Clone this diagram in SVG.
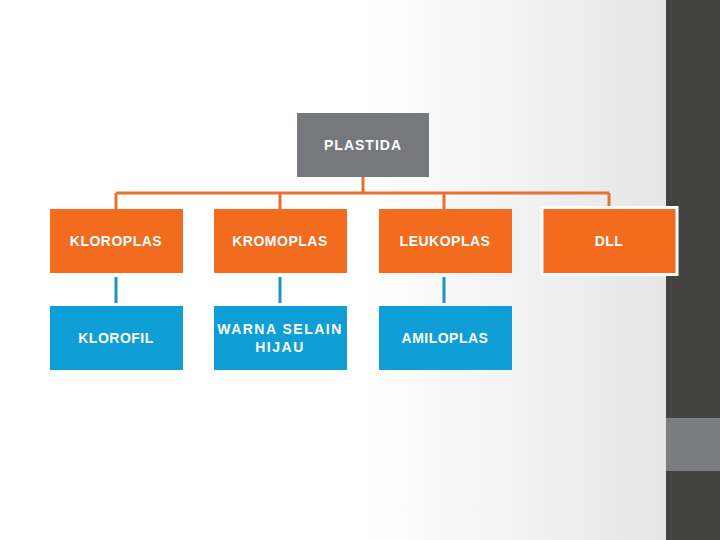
<svg xmlns="http://www.w3.org/2000/svg" width="720" height="540" viewBox="0 0 720 540">
<defs>
<linearGradient id="bg" x1="0" y1="0" x2="666" y2="0" gradientUnits="userSpaceOnUse">
<stop offset="0.55" stop-color="#ffffff"/>
<stop offset="1" stop-color="#e6e6e6"/>
</linearGradient>
<style>
.t{font-family:"Liberation Sans",Arial,sans-serif;font-weight:bold;font-size:14px;letter-spacing:0.5px;fill:#ffffff;text-anchor:middle;dominant-baseline:central}
.or{fill:#f26b1e}
.bl{fill:#0f9ed6}
.oc{stroke:#e8712e;stroke-width:3;fill:none}
.bc{stroke:#1c93c3;stroke-width:3;fill:none}
</style>
</defs>
<rect width="720" height="540" fill="url(#bg)"/>
<rect x="666" y="0" width="54" height="540" fill="#434341"/>
<rect x="666" y="418" width="54" height="53" fill="#7b7c80"/>
<g id="connectors">
<path class="oc" d="M363 177V193M116 193H609M116 193V209M280 193V209M444 193V209M609 193V206"/>
<path class="bc" d="M116 277V303M280 277V303M444 277V303"/>
</g>
<g id="plastida">
<rect x="297" y="113" width="132" height="64" fill="#77787b"/>
<text class="t" x="363" y="145" style="letter-spacing:1px">PLASTIDA</text>
</g>
<g id="kloroplas">
<rect class="or" x="50" y="209" width="133" height="64"/>
<text class="t" x="116" y="241">KLOROPLAS</text>
</g>
<g id="kromoplas">
<rect class="or" x="214" y="209" width="133" height="64"/>
<text class="t" x="280" y="241">KROMOPLAS</text>
</g>
<g id="leukoplas">
<rect class="or" x="379" y="209" width="133" height="64"/>
<text class="t" x="445" y="241">LEUKOPLAS</text>
</g>
<g id="dll">
<rect class="or" x="542" y="207.5" width="135" height="67" stroke="#ffffff" stroke-width="3"/>
<text class="t" x="609" y="241">DLL</text>
</g>
<g id="klorofil">
<rect class="bl" x="50" y="306" width="133" height="64"/>
<text class="t" x="116" y="338">KLOROFIL</text>
</g>
<g id="warna">
<rect class="bl" x="214" y="306" width="133" height="64"/>
<text class="t" x="280" y="329" style="letter-spacing:1.5px">WARNA SELAIN</text>
<text class="t" x="280" y="347" style="letter-spacing:1.5px">HIJAU</text>
</g>
<g id="amiloplas">
<rect class="bl" x="379" y="306" width="133" height="64"/>
<text class="t" x="445" y="338">AMILOPLAS</text>
</g>
</svg>
